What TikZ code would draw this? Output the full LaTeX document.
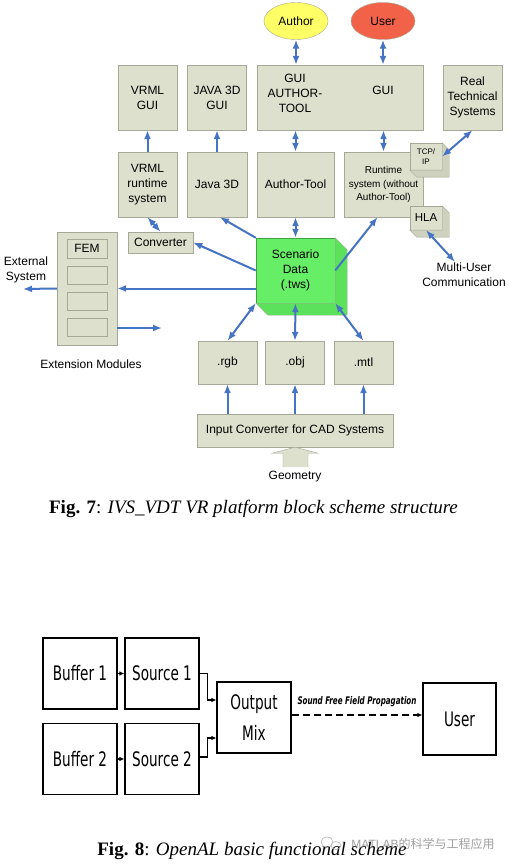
\documentclass[tikz,border=0pt]{standalone}
\usepackage{fontspec}
\setmainfont{Liberation Serif}
\setsansfont{Liberation Sans}
\newfontfamily\handfont[FakeStretch=0.68]{DejaVu Sans}
\newfontfamily\cjkfont{Noto Sans CJK SC}
\usetikzlibrary{arrows.meta,shapes.geometric,calc}

\definecolor{boxfill}{RGB}{221,224,204}
\definecolor{boxedge}{RGB}{165,168,150}
\definecolor{boxside}{RGB}{206,209,190}
\definecolor{linkblue}{RGB}{70,116,196}
\definecolor{scengreen}{RGB}{102,238,102}
\definecolor{scenside}{RGB}{92,225,92}
\definecolor{authyellow}{RGB}{255,255,102}
\definecolor{userred}{RGB}{242,98,72}

\tikzset{
  >={Latex[length=9pt,width=7pt]},
  box/.style={draw=boxedge,fill=boxfill,align=center,inner sep=1pt,minimum height=65,
    font=\sffamily\fontsize{12}{15}\selectfont},
  label/.style={align=center,inner sep=1pt,font=\sffamily\fontsize{12}{15}\selectfont},
  actor/.style={ellipse,draw=boxedge,inner sep=0pt,minimum width=64,minimum height=37,
    font=\sffamily\fontsize{12}{15}\selectfont},
  link/.style={draw=linkblue,line width=2pt,->},
  both/.style={link,<->},
  plain/.style={draw,line width=1.1pt,minimum width=74,minimum height=71,align=center,
    font=\handfont\fontsize{20}{31}\selectfont},
  flow/.style={line width=1.2pt,-{Latex[length=5pt,width=4.5pt]}},
  caption/.style={anchor=base,font=\fontsize{19}{22}\selectfont}
}

\begin{document}
\begin{tikzpicture}[x=1pt,y=-1pt]
\fill[white] (0,0) rectangle (510,866);
\useasboundingbox (0,0) rectangle (510,866);

% Fig. 7
\node (author) at (296,21)[actor,fill=authyellow]{Author};
\node (user) at (383,21)[actor,fill=userred]{User};

\foreach \n/\x/\t in {vrmlgui/147.5/{VRML\\GUI},javagui/217/{JAVA 3D\\GUI},realsys/472.5/{Real\\Technical\\Systems}}
{
   \node (\n) at (\x,97.5)[box,minimum width=59]{\t};
}
\node (gui) at (340,97.5)[box,minimum width=166]{};
\node (guiauth) at (295,93)[label]{GUI\\AUTHOR-\\TOOL};
\node (guiuser) at (383,90)[label]{GUI};

\foreach \n/\x/\w/\t in {vrmlrt/147.5/59/{VRML\\runtime\\system},java/217/60/{Java 3D},authtool/295.5/77/{Author-Tool}}
{
   \node (\n) at (\x,184.5)[box,minimum width=\w]{\t};
}
\node (runtime) at (383.5,184.5)[box,minimum width=79,font=\sffamily\fontsize{10}{13.5}\selectfont]{Runtime\\system (without\\Author-Tool)};
\node (tcp) at (426,156.5)[box,minimum width=32,minimum height=27,font=\sffamily\fontsize{8}{10.5}\selectfont]{TCP/\\IP};
\node (hla) at (426,218)[box,minimum width=32,minimum height=24,font=\sffamily\fontsize{11.5}{14}\selectfont]{HLA};

\node (conv) at (160.5,242.5)[box,minimum width=65,minimum height=21]{Converter};
\node (scen) at (295.5,270.5)[box,fill=scengreen,draw=scenside!70!black,minimum width=79]{Scenario\\Data\\(.tws)};

\node (ext) at (87,288.5)[box,minimum width=60,minimum height=113]{};
\node (fem) at (87,248.5)[box,minimum width=40,minimum height=19]{FEM};
\foreach \y [count=\i] in {275,301.5,327.5}
{
   \node (slot\i) at (87,\y)[box,minimum width=40,minimum height=18]{};
}
\node (extsys) at (26,270)[label]{External\\System};
\node (modlabel) at (91,364)[label]{Extension Modules};
\node (multi) at (464,275)[label]{Multi-User\\Communication};

\foreach \n/\x in {rgb/227.5,obj/295,mtl/363.5}
{
   \node (\n) at (\x,362.5)[box,minimum width=59,minimum height=43]{.\n};
}
\node (input) at (295,430.5)[box,minimum width=196,minimum height=33]{Input Converter for CAD Systems};
\node (geom) at (295,477)[label]{Geometry};

% raised sides
\foreach \n/\d/\c in {scen/12/scenside,tcp/7/boxside,hla/7/boxside}
{
   \draw[fill=\c,draw=boxedge] (\n.north east) -- ++(\d,\d) -- ($(\n.south east)+(\d,\d)$)
      -- ($(\n.south west)+(\d,\d)$) -- (\n.south west) -- (\n.south east) -- cycle;
}

\coordinate (extout) at (23,289);
\coordinate (modout) at (162,328);

\draw[both] (author.south) -- (author.south |- gui.north);
\draw[both] (user.south) -- (user.south |- gui.north);
\draw[link] (vrmlrt) -- (vrmlgui);
\draw[link] (java) -- (javagui);
\draw[both] (authtool.north) -- (authtool.north |- gui.south);
\draw[both] (runtime.north) -- (runtime.north |- gui.south);
\draw[both] (realsys.south) -- (tcp.east);
\draw[both] (vrmlrt.south) -- (conv.north);
\draw[link] (scen.north west) -- ([xshift=3pt]java.south);
\draw[both] (scen.north) -- (authtool.south);
\draw[link] (scen.east) -- ([xshift=-6pt]runtime.south);
\draw[link] (scen.west) -- (conv.east);
\draw[link] (scen.west |- ext.east) -- (ext.east);
\draw[link] (ext.west) -- (extout);
\draw[link] (ext.east |- modout) -- (modout);
\draw[both] (hla.south) -- ([xshift=-9pt]multi.north);
\draw[both] (scen.south west) -- (rgb.north);
\draw[both] (scen.south) -- (obj.north);
\draw[both] (scen.south east) -- (mtl.north);
\foreach \n in {rgb,obj,mtl}
{
   \draw[link] (input.north -| \n) -- (\n);
}
\draw[fill=boxfill,draw=boxedge] (input.south) ++(-12,20) -- ++(0,-14) -- ++(-11,0)
   -- (input.south) -- ++(23,6) -- ++(-10,0) -- ++(0,14);

\node (cap7) at (253.5,513)[caption]{\textbf{Fig. 7}: \textit{IVS\_VDT VR platform block scheme structure}};

% Fig. 8
\node (buf1) at (80,673.5)[plain]{Buffer 1};
\node (src1) at (162,673.5)[plain]{Source 1};
\node (buf2) at (80,759)[plain]{Buffer 2};
\node (src2) at (162,759)[plain]{Source 2};
\node (mix) at (254,717.5)[plain]{Output\\Mix};
\node (usr) at (459.5,719)[plain,minimum width=73,minimum height=72]{User};

\draw[flow] (buf1) -- (src1);
\draw[flow] (buf2) -- (src2);
\draw[flow] (src1.east) -- ++(8,0) |- ([yshift=17.5pt]mix.west);
\draw[flow] ([yshift=2pt]src2.east) -- ++(8,0) |- ([yshift=-20.5pt]mix.west);
\draw[flow,dash pattern=on 7pt off 4pt] ([yshift=2.5pt]mix.east) -- ([yshift=2.5pt]mix.east -| usr.west)
   node[midway,above=8pt,inner sep=0pt,font=\handfont\bfseries\itshape\fontsize{10.5}{12}\selectfont]{Sound Free Field Propagation};

\node (cap8) at (252,855)[caption]{\textbf{Fig. 8}: \textit{OpenAL basic functional scheme}};

\draw[gray!60,line width=0.6pt] (327,842) ellipse (6 and 5) (336,845.5) ellipse (5 and 4);
\node (mark) at (423,848)[anchor=base,text=gray,text opacity=0.75,font=\sffamily\fontsize{12}{14}\selectfont]{MATLAB{\cjkfont 的科学与工程应用}};
\end{tikzpicture}
\end{document}
